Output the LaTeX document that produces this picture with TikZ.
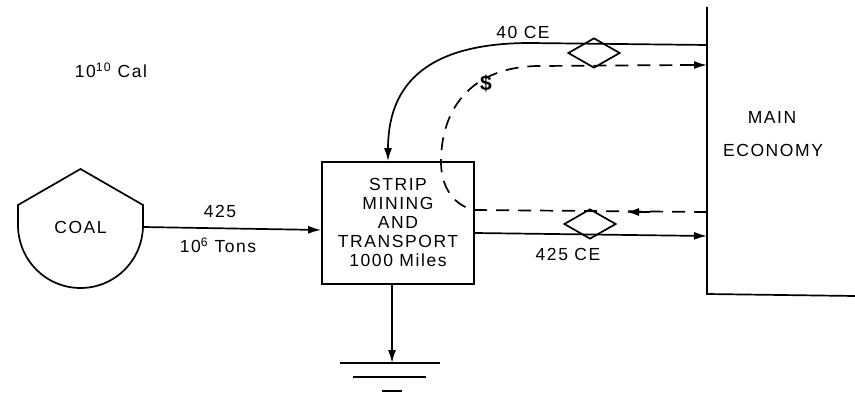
\documentclass[tikz,border=0pt]{standalone}
\usepackage{fontspec}
\setmainfont{Liberation Sans}[LetterSpace=9]
\usetikzlibrary{arrows.meta,shapes.geometric}
\begin{document}
\begin{tikzpicture}[x=1pt,y=-1pt,line width=1.7pt,
  lbl/.style={font=\fontsize{17.5}{19}\selectfont,inner sep=0pt,align=center},
  flow/.style={-{Latex[length=13pt,width=8pt]}},
  money/.style={dash pattern=on 13pt off 9pt},
  valve/.style={draw,diamond,inner sep=0pt,minimum width=52pt,minimum height=30pt,line width=1.7pt}]
\useasboundingbox (0,0) rectangle (855,393);
% title
\node[lbl] (unit) at (111,70) {10\textsuperscript{10} Cal};
% coal source
\draw (18,225) -- (18,205) -- (80.5,169) -- (143,205) -- (143,225)
  .. controls (143,260) and (115,288) .. (80.5,288)
  .. controls (46,288) and (18,260) .. (18,225);
\node[lbl] (coal) at (80.5,227) {COAL};
\coordinate (coalout) at (143,227);
% process box
\node[draw,line width=1.7pt,minimum width=152pt,minimum height=122pt,inner sep=0pt] (box) at (398,223) {};
\node[lbl] (boxtxt) at (398,222) {STRIP\\MINING\\AND\\TRANSPORT\\1000 Miles};
% main economy
\coordinate (metop) at (707,7);
\coordinate (mebot) at (707,294);
\coordinate (meright) at (855,296);
\draw (metop) -- (mebot) -- (meright);
\node[lbl] (main) at (772,117) {MAIN};
\node[lbl] (econ) at (773,150) {ECONOMY};
% coal to box
\draw[flow] (coalout) -- (box.west |- 0,230);
\node[lbl] (q425) at (220,211) {425};
\node[lbl] (tons) at (218,245) {10\textsuperscript{6} Tons};
% sink
\coordinate (gnd) at (392,363);
\draw[flow] (box.south -| gnd) -- (gnd);
\draw (340,363) -- (440,363);
\draw (353,377) -- (426,377);
\draw (382,391) -- (402,391);
% top feedback 40 CE
\coordinate (fbstart) at (707,45);
\draw[flow] (fbstart) -- (530,43) .. controls (420,43) and (388,90) .. (box.north -| 388,0);
\node[lbl] (ce40) at (523,32) {40 CE};
\node[valve] (v1) at (594,53) {};
% dollars loop
\coordinate (dtop) at (707,65);
\coordinate (dlow) at (707,212);
\draw[money] (dlow) -- (474,210) .. controls (452,205) and (441,185) .. (441,162)
  .. controls (441,105) and (475,66) .. (540,66) -- (690,65);
\draw[flow] (680,65) -- (dtop);
\draw[-{Latex[length=13pt,width=8pt]}] (650,212) -- (626,212);
\node[font=\fontsize{21}{22}\selectfont\bfseries,inner sep=0pt] (dollar) at (486,83) {\$};
% output 425 CE
\coordinate (meout) at (707,236);
\draw[flow] (box.east |- 0,233) -- (meout);
\node[valve] (v2) at (590,224) {};
\node[lbl] (ce425) at (568,254) {425 CE};
\end{tikzpicture}
\end{document}
